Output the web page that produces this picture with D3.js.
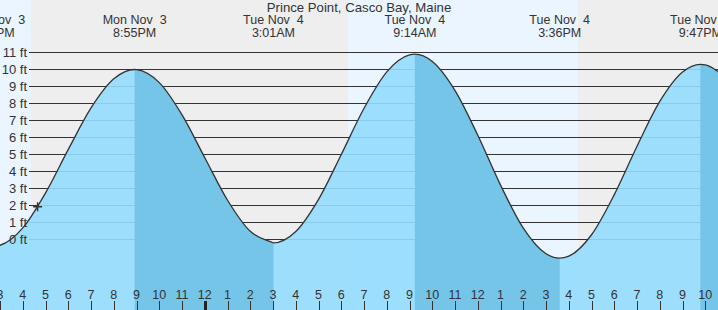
<!DOCTYPE html>
<html>
<head>
<meta charset="utf-8">
<script src="https://cdn.jsdelivr.net/npm/d3@7"></script>
<style>
  body { margin: 0; background: #fff; }
  svg { display: block; font-family: 'Liberation Sans', Arial, sans-serif; }
</style>
</head>
<body>
<svg width="718" height="310"></svg>
<script>
/* global d3 */
// hours are counted from midnight, Tue Nov 4 (negative = Mon Nov 3)
var tideTimes = [-9.3, -3.083, 3.017, 9.233, 15.6, 21.783]
var tideHeights = [-0.4, 10.0, -0.2, 10.9, -1.1, 10.3]
var tideDays = ['Mon Nov  3', 'Mon Nov  3', 'Tue Nov  4', 'Tue Nov  4', 'Tue Nov  4', 'Tue Nov  4']
var tideClock = ['2:42PM', '8:55PM', '3:01AM', '9:14AM', '3:36PM', '9:47PM']

// water level read every hour
var hours = [-10, -9, -8, -7, -6, -5, -4, -3, -2, -1, 0, 1, 2, 3, 4, 5, 6, 7, 8, 9, 10,
  11, 12, 13, 14, 15, 16, 17, 18, 19, 20, 21, 22, 23]
var hourHeights = [-0.07, -0.34, 0.68, 2.74, 5.30, 7.74, 9.45, 9.99, 9.23, 7.33, 4.81,
  2.31, 0.48, -0.19, 0.47, 2.36, 5.00, 7.72, 9.86, 10.86, 10.47, 8.76, 6.13, 3.20, 0.67,
  -0.84, -0.98, 0.28, 2.64, 5.49, 8.12, 9.85, 10.27, 9.35]

// daylight (sunrise/sunset)
var dayStarts = [-10, 6.28]
var dayEnds = [-7.64, 16.40]

var feetTicks = [0, 1, 2, 3, 4, 5, 6, 7, 8, 9, 10, 11]
var hourTicks = [-9, -8, -7, -6, -5, -4, -3, -2, -1, 0, 1, 2, 3, 4, 5, 6, 7, 8, 9, 10,
  11, 12, 13, 14, 15, 16, 17, 18, 19, 20, 21, 22]

var nowTime = -7.35
var nowHeight = 1.93

var title = 'Prince Point, Casco Bay, Maine'

var svg = d3.select('svg')
var width = +svg.attr('width')
var height = +svg.attr('height')

let nightC = '#eeeeee'
let dayC = '#eaf5ff'
let waterC = '#94dbfe'
let waterDarkC = '#72c2e7'
let inkC = '#333'

var x = d3.scaleLinear().domain([0, 12]).range([204.8, 204.8 + 12 * 22.75])
var y = d3.scaleLinear().domain([0, 11]).range([239.5, 52.5])

// background: night everywhere, day on top
svg.append('rect')
  .attr('width', width)
  .attr('height', height)
  .attr('fill', nightC)

svg.append('g')
  .selectAll('rect')
  .data(dayStarts)
  .enter().append('rect')
    .attr('x', d => x(d))
    .attr('y', 0)
    .attr('width', (d, i) => x(dayEnds[i]) - x(d))
    .attr('height', height)
    .attr('fill', dayC)

// grid
svg.append('g')
  .selectAll('line')
  .data(feetTicks)
  .enter().append('line')
    .attr('x1', 29)
    .attr('x2', width)
    .attr('y1', d => y(d))
    .attr('y2', d => y(d))
    .attr('stroke', inkC)
    .attr('stroke-width', 1)

// water curve: hourly readings plus the tide turns
var points = hours.map((h, i) => ({ t: h, v: hourHeights[i] }))
  .concat(tideTimes.map((t, i) => ({ t: t, v: tideHeights[i] })))
  .sort((a, b) => a.t - b.t)

var area = d3.area()
  .x(d => x(d.t))
  .y0(height)
  .y1(d => y(d.v))
  .curve(d3.curveMonotoneX)

var line = d3.line()
  .x(d => x(d.t))
  .y(d => y(d.v))
  .curve(d3.curveMonotoneX)

svg.append('path')
  .datum(points)
  .attr('d', area)
  .attr('fill', waterC)
  .attr('fill-opacity', 0.9)

// falling tide (high -> low) is shaded darker
var defs = svg.append('defs')
var clip = defs.append('clipPath').attr('id', 'ebb')
tideTimes.forEach((t, i) => {
  if (tideHeights[i] < 5) return
  var next = i + 1 < tideTimes.length ? tideTimes[i + 1] : t + 6.2
  clip.append('rect')
    .attr('x', x(t))
    .attr('y', 0)
    .attr('width', x(next) - x(t))
    .attr('height', height)
})

svg.append('path')
  .datum(points)
  .attr('d', area)
  .attr('fill', waterDarkC)
  .attr('fill-opacity', 0.92)
  .attr('clip-path', 'url(#ebb)')

svg.append('path')
  .datum(points)
  .attr('d', line)
  .attr('fill', 'none')
  .attr('stroke', inkC)
  .attr('stroke-width', 1.3)

// feet labels sit on top of the water
svg.append('g')
  .selectAll('text')
  .data(feetTicks)
  .enter().append('text')
    .attr('x', 27)
    .attr('y', d => y(d))
    .attr('dy', '0.36em')
    .attr('text-anchor', 'end')
    .attr('font-size', 13)
    .attr('fill', inkC)
    .text(d => d + ' ft')

// current time marker
var nx = x(nowTime)
var ny = y(nowHeight)
svg.append('path')
  .attr('d', 'M' + (nx - 4.5) + ',' + ny + 'H' + (nx + 4.5) + 'M' + nx + ',' + (ny - 4.5) + 'V' + (ny + 4.5))
  .attr('stroke', inkC)
  .attr('stroke-width', 1.4)

// hour axis
var xa = svg.append('g')
xa.selectAll('line')
  .data(hourTicks)
  .enter().append('line')
    .attr('x1', d => Math.round(x(d)) + 0.5)
    .attr('x2', d => Math.round(x(d)) + 0.5)
    .attr('y1', 301)
    .attr('y2', height)
    .attr('stroke', d => d === 0 ? '#222' : inkC)
    .attr('stroke-width', d => d === 0 ? 3 : 1)

xa.selectAll('text')
  .data(hourTicks)
  .enter().append('text')
    .attr('x', d => x(d))
    .attr('y', 299)
    .attr('text-anchor', 'middle')
    .attr('font-size', 12.5)
    .attr('fill', inkC)
    .text(d => (((d % 12) + 12) % 12) || 12)

// tide turn labels
var lab = svg.append('g')
  .selectAll('text')
  .data(tideTimes)
  .enter().append('text')
    .attr('text-anchor', 'middle')
    .attr('font-size', 12.5)
    .attr('fill', inkC)
    .style('white-space', 'pre')

lab.append('tspan')
  .attr('x', d => x(d))
  .attr('y', 24)
  .text((d, i) => tideDays[i])
lab.append('tspan')
  .attr('x', d => x(d))
  .attr('y', 36.5)
  .text((d, i) => tideClock[i])

svg.append('text')
  .attr('x', width / 2)
  .attr('y', 12)
  .attr('text-anchor', 'middle')
  .attr('font-size', 13.2)
  .attr('fill', inkC)
  .text(title)
</script>
</body>
</html>
